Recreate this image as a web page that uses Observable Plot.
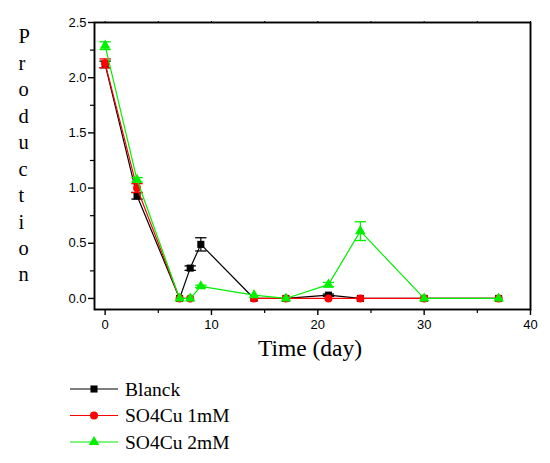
<!DOCTYPE html>
<html><head><meta charset="utf-8">
<script src="https://cdn.jsdelivr.net/npm/d3@7"></script>
<script src="https://cdn.jsdelivr.net/npm/@observablehq/plot@0.6"></script>
<style>body{margin:0;background:#fff} #chart{width:550px}</style>
</head><body><div id="chart"></div>
<script>
const days = [0, 3, 7, 8, 9, 14, 17, 21, 24, 30, 37];
const blanck    = [2.12, 0.93, 0, 0.275, 0.49, 0, 0, 0.03, 0, 0, 0];
const blanckErr = [0.03, 0.03, 0, 0.02, 0.06, 0, 0, 0.01, 0, 0, 0];
const cu1mM     = [2.13, 1.00, 0, 0, null, 0, 0, 0, 0, 0, 0];
const cu1mMErr  = [0.04, 0.04, 0, 0, 0, 0, 0, 0, 0, 0, 0];
const cu2mM     = [2.29, 1.075, 0, 0, 0.11, 0.03, 0, 0.125, 0.61, 0, 0];
const cu2mMErr  = [0.035, 0.02, 0, 0, 0.01, 0, 0, 0.02, 0.085, 0, 0];
const seriesNames = ["Blanck", "SO4Cu 1mM", "SO4Cu 2mM"];
const seriesColors = ["#000000", "#ff0000", "#00f000"];
const seriesSymbols = ["square", "circle", "triangle"];
const seriesR = [4, 4, 3.9];
const xMajor = [0, 10, 20, 30, 40];
const xMinor = [5, 15, 25, 35];
const yMajor = [0, 0.5, 1.0, 1.5, 2.0, 2.5];
const yMinor = [0.25, 0.75, 1.25, 1.75, 2.25];

const values = [blanck, cu1mM, cu2mM];
const errs = [blanckErr, cu1mMErr, cu2mMErr];
const rows = [];
seriesNames.forEach((name, i) => {
  days.forEach((d, j) => rows.push({series: name, i, x: d, y: values[i][j], e: errs[i][j]}));
});
const errRows = rows.filter(r => r.y != null && r.e > 0);
const capSymbol = {draw(ctx, size) { const w = Math.sqrt(size); ctx.moveTo(-w, 0); ctx.lineTo(w, 0); }};
const sans = "Liberation Sans, Arial, sans-serif";
const serif = "Liberation Serif, Times New Roman, serif";

const marks = [];
seriesNames.forEach((name, i) => {
  const data = rows.filter(r => r.i === i);
  const ed = errRows.filter(r => r.i === i);
  const c = seriesColors[i];
  marks.push(
    Plot.line(data, {x: "x", y: "y", stroke: c, strokeWidth: 1.2}),
    Plot.ruleX(ed, {x: "x", y1: d => d.y - d.e, y2: d => d.y + d.e, stroke: c, strokeWidth: 1.2}),
    Plot.dot(ed, {x: "x", y: d => d.y + d.e, symbol: capSymbol, r: 3.2, stroke: c, strokeWidth: 1.3, fill: "none"}),
    Plot.dot(ed, {x: "x", y: d => d.y - d.e, symbol: capSymbol, r: 3.2, stroke: c, strokeWidth: 1.3, fill: "none"}),
    Plot.dot(data.filter(r => r.y != null), {x: "x", y: "y", symbol: seriesSymbols[i], r: seriesR[i], fill: c, stroke: "none"})
  );
});

const plot = Plot.plot({
  width: 550, height: 370,
  marginLeft: 94, marginRight: 20, marginTop: 22, marginBottom: 61,
  style: {fontFamily: sans, background: "white", overflow: "visible"},
  x: {domain: [-1, 40]},
  y: {domain: [-0.1, 2.5]},
  marks: [
    ...marks,
    Plot.frame({stroke: "black", strokeWidth: 1.9}),
    Plot.axisX({ticks: xMajor, tickSize: 6, tickPadding: 4, fontSize: 13, label: null, stroke: "black", strokeWidth: 1.4, fill: "black"}),
    Plot.axisX({ticks: xMinor, tickSize: 4, tickFormat: () => "", label: null, strokeWidth: 1.2}),
    Plot.axisX({anchor: "top", ticks: xMajor.concat(xMinor), tickSize: 2, tickFormat: () => "", label: null}),
    Plot.axisY({ticks: yMajor, tickSize: 6, tickPadding: 2, fontSize: 13, tickFormat: d3.format(".1f"), label: null, strokeWidth: 1.4, fill: "black"}),
    Plot.axisY({ticks: yMinor, tickSize: 4, tickFormat: () => "", label: null, strokeWidth: 1.2}),
    Plot.text(["Time (day)"], {frameAnchor: "bottom", dy: 46.5, dx: -2.5, fontSize: 23.5, fontFamily: serif, fill: "black"}),
    Plot.text(["Production".split("").join("\n")], {frameAnchor: "left", dx: -76, dy: -12, fontSize: 20.5, lineHeight: 1.29, fontFamily: serif, fill: "black"})
  ]
});
document.getElementById("chart").appendChild(plot);

// legend
const leg = d3.select("#chart").append("svg").attr("width", 550).attr("height", 93).style("display", "block");
seriesNames.forEach((name, i) => {
  const y = 19 + i * 26.5;
  const g = leg.append("g");
  g.append("line").attr("x1", 70).attr("x2", 118).attr("y1", y).attr("y2", y).attr("stroke", seriesColors[i]).attr("stroke-width", 1.2);
  const sym = {square: d3.symbolSquare, circle: d3.symbolCircle, triangle: d3.symbolTriangle}[seriesSymbols[i]];
  g.append("path").attr("d", d3.symbol(sym, seriesR[i] * seriesR[i] * Math.PI)()).attr("transform", `translate(94,${y})`).attr("fill", seriesColors[i]);
  g.append("text").attr("x", 125).attr("y", y + 6.5).attr("font-family", serif).attr("font-size", 19.5).attr("fill", "black").text(name);
});
</script>
</body></html>
